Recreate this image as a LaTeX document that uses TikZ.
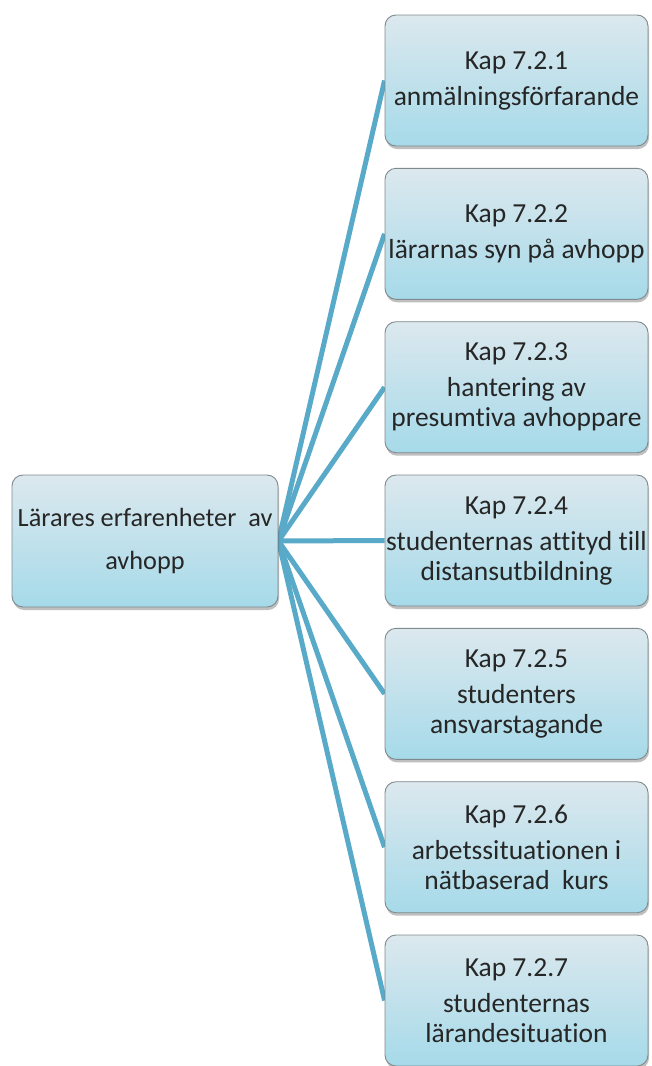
\documentclass[tikz,border=0pt]{standalone}
\usepackage{fontspec}
\setmainfont{Carlito}[Ligatures=NoCommon]
\usetikzlibrary{shadows}
\pgfdeclarelayer{bg}
\pgfsetlayers{bg,main}
\definecolor{boxtop}{HTML}{DCE8EE}
\definecolor{boxbot}{HTML}{A6DAE9}
\definecolor{boxedge}{HTML}{7F8A8E}
\definecolor{linkblue}{HTML}{58AAC8}
\definecolor{txt}{HTML}{262626}
\tikzset{
  card/.style={draw=boxedge, line width=0.9pt, rounded corners=11pt,
    top color=boxtop, bottom color=boxbot, inner sep=0pt,
    align=center, text=txt,
    drop shadow={shadow xshift=1pt, shadow yshift=-3pt, opacity=0.25, fill=black}},
  topic/.style={card, minimum width=263pt, minimum height=131pt,
    font=\fontsize{27.5}{30}\selectfont},
  hub/.style={card, minimum width=266pt, minimum height=132pt,
    font=\fontsize{26.3}{43}\selectfont},
  link/.style={draw=linkblue, line width=5pt}
}
\begin{document}
\begin{tikzpicture}[x=1pt,y=-1pt]
\useasboundingbox (0,0) rectangle (651,1066);
\node[hub] (root) at (145,541) {Lärares erfarenheter\ \ av\\avhopp};
\node[topic] (k1) at (516.5,80.5) {Kap 7.2.1\\[6pt]anmälningsförfarande};
\node[topic] (k2) at (516.5,233.8) {Kap 7.2.2\\[6pt]lärarnas syn på avhopp};
\node[topic] (k3) at (516.5,387.2) {Kap 7.2.3\\[6pt]hantering av\\presumtiva avhoppare};
\node[topic] (k4) at (516.5,540.5) {Kap 7.2.4\\[6pt]studenternas attityd till\\distansutbildning};
\node[topic] (k5) at (516.5,693.8) {Kap 7.2.5\\[6pt]studenters\\ansvarstagande};
\node[topic] (k6) at (516.5,847.2) {Kap 7.2.6\\[6pt]arbetssituationen i\\nätbaserad\ \ kurs};
\node[topic] (k7) at (516.5,1000.5) {Kap 7.2.7\\[6pt]studenternas\\lärandesituation};
\begin{pgfonlayer}{bg}
\foreach \k in {k1,k2,k3,k4,k5,k6,k7}
  \draw[link] (root.east) -- (\k.west);
\end{pgfonlayer}
\end{tikzpicture}
\end{document}
